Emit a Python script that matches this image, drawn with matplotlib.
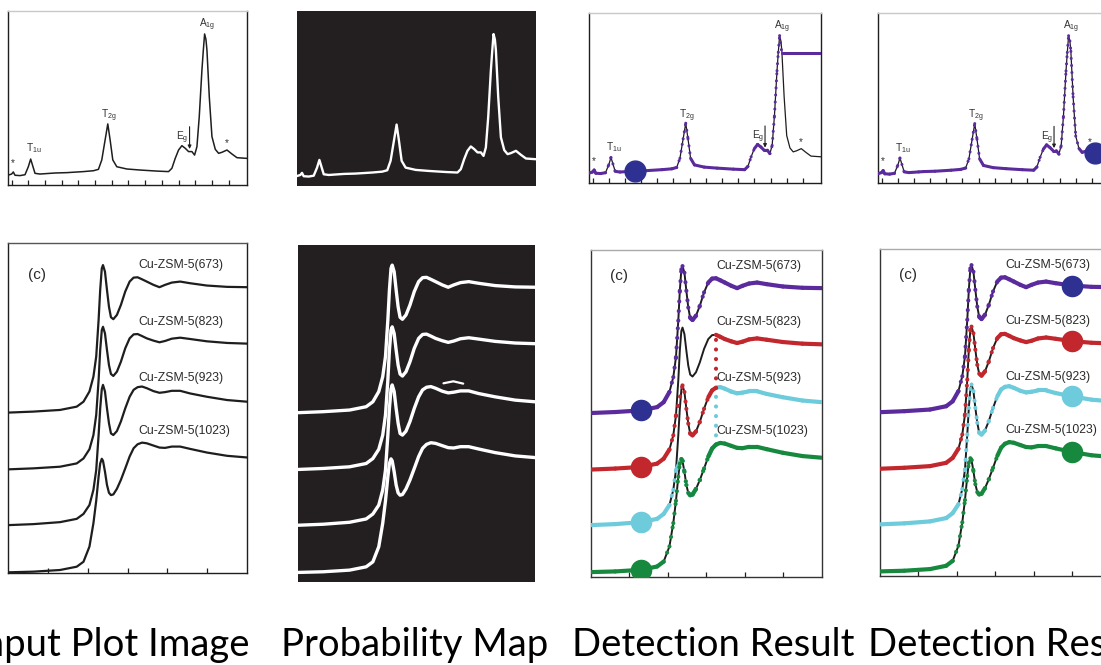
import numpy as np
import matplotlib
matplotlib.use("Agg")
import matplotlib.pyplot as plt
from matplotlib.collections import LineCollection

W, H = 1101, 665

# ---------------- Raman spectrum (top row) ----------------
RAMAN_SHIFT = [140, 150, 155, 160, 175, 190, 200, 207, 213, 220,
               235, 265, 280, 315, 365, 395, 410, 420, 430, 438,
               445, 453, 465, 495, 535, 585, 620, 630, 640, 650,
               660, 670, 680, 690, 698, 705, 712, 720, 724, 728,
               732, 735, 742, 750, 760, 770, 780, 795, 810, 825,
               855]
RAMAN_INTENSITY = [5.7, 6.3, 7.5, 5.6, 5.4, 5.9, 10.5, 14.9, 11.1, 6.7,
                   6.3, 6.7, 6.9, 7.1, 7.7, 8.2, 9.0, 14.4, 25.9, 35.1,
                   25.9, 14.4, 10.5, 9.2, 8.6, 8.0, 7.7, 9.6, 15.3, 20.1,
                   22.6, 21.1, 19.2, 19.2, 17.2, 22.0, 39.3, 66.1, 77.0, 86.8,
                   83.7, 77.6, 50.8, 27.8, 20.5, 18.2, 18.8, 20.1, 17.8, 15.7,
                   15.3]
RAMAN_TICKS = list(range(150, 801, 50))

# band labels: text, shift, intensity
RAMAN_BANDS = [("*", 153, 12.8), (r"T$_{\mathregular{1u}}$", 216, 21.0),
               (r"T$_{\mathregular{2g}}$", 441, 39.5), (r"E$_{\mathregular{g}}$", 661, 27.0),
               (r"A$_{\mathregular{1g}}$", 737, 92.0), ("*", 795, 24.0)]
EG_ARROW = (683, 33.5, 20.7)

# first detector: follows the trace up to the A1g maximum, then runs flat
DETECT_A_STOP = 728
DETECT_A_TAIL_X = [735, 855]
DETECT_A_TAIL_Y = [76.4, 76.4]
DETECT_A_MARK = 280
DETECT_B_MARK = 810

# ---------------- XANES spectra (bottom row) ----------------
XANES_E = [8970.0, 8976.3, 8983.0, 8987.2, 8988.9, 8990.4, 8991.4, 8992.1, 8992.7, 8993.1,
           8993.5, 8993.8, 8994.3, 8994.8, 8995.3, 8995.8, 8996.4, 8997.3, 8998.3, 8999.4,
           9000.5, 9001.5, 9002.5, 9003.6, 9004.8, 9006.5, 9008.0, 9009.4, 9011.1, 9013.2,
           9015.7, 9019.9, 9025.0, 9030.0]
CU673 = [48.7, 49.0, 49.5, 50.5, 52.0, 55.1, 59.6, 65.7, 76.8, 85.9,
         92.4, 93.4, 91.4, 85.9, 80.8, 77.6, 77.0, 78.3, 81.3, 85.4,
         88.4, 89.6, 89.7, 89.1, 88.4, 87.4, 86.7, 87.4, 88.1, 88.4,
         87.9, 87.2, 86.8, 86.7]
CU823 = [31.5, 31.8, 32.3, 33.3, 34.8, 37.6, 41.9, 48.0, 58.6, 67.7,
         73.7, 74.7, 72.7, 67.7, 63.1, 60.4, 59.8, 61.1, 64.1, 68.2,
         71.2, 72.4, 72.5, 71.9, 71.2, 70.5, 70.0, 70.4, 71.1, 71.4,
         71.0, 70.3, 69.8, 69.6]
CU923 = [14.6, 14.9, 15.5, 16.5, 18.0, 20.7, 25.3, 31.3, 41.9, 50.0,
         55.8, 57.1, 55.1, 50.0, 45.5, 42.4, 41.9, 43.1, 46.0, 50.0,
         53.5, 55.6, 56.4, 56.6, 56.1, 55.2, 54.7, 54.9, 55.3, 55.3,
         54.5, 53.5, 52.5, 52.0]
CU1023 = [0.3, 0.5, 1.0, 2.0, 3.5, 8.1, 15.2, 22.0, 29.3, 33.3,
          34.7, 34.1, 30.8, 26.8, 24.4, 23.7, 23.9, 25.6, 28.3, 31.8,
          35.4, 37.9, 39.1, 39.6, 39.4, 38.7, 38.1, 38.0, 38.4, 38.4,
          37.7, 36.6, 35.6, 35.1]
XANES_SERIES = [CU673, CU823, CU923, CU1023]
XANES_LABELS = ["Cu-ZSM-5(673)", "Cu-ZSM-5(823)", "Cu-ZSM-5(923)", "Cu-ZSM-5(1023)"]
XANES_LABEL_Y = [93.5, 76.3, 59.3, 43.2]
XANES_LABEL_E = 9002.7
XANES_TICKS = [8980, 8990, 9000, 9010, 9020]
PANEL_TAG = ("(c)", 8977.3, 90.5)
SPECK_E = [9006.8, 9009.3, 9011.8]
SPECK_Y = [57.6, 58.2, 57.5]

# tracking with crossings: (series, from index, to index) pieces on the shared grid
CROSS_RED = [(1, 0, 8), (2, 11, 23), (1, 22, 34)]
CROSS_CYAN = [(2, 0, 8), (3, 10, 23), (2, 22, 34)]
MARK_LEFT = 2
MARK_RIGHT = 31

CAPTIONS = ["Input Plot Image", "Probability Map", "Detection Result", "Detection Result"]

# ---------------- styling ----------------
PURPLE = "#5b2b9d"
NAVY = "#2e3192"
RED = "#c1272d"
CYAN = "#6dcbdc"
GREEN = "#16893f"
MAPBG = "#231f20"
INK = "#1e1e1e"
SERIES_COLORS = [PURPLE, RED, CYAN, GREEN]
MARK_COLORS = [NAVY, RED, CYAN, GREEN]

plt.rcParams["font.family"] = ["Liberation Sans", "DejaVu Sans"]

fig = plt.figure(figsize=(W / 100, H / 100), dpi=100)
fig.patch.set_facecolor("white")


def px_axes(left, top, right, bottom):
    return fig.add_axes([left / W, 1 - bottom / H, (right - left) / W, (bottom - top) / H])


def frame(ax, top_color="#c8c8c8", side_color=INK, ticks=None):
    for side in ("left", "right", "bottom"):
        ax.spines[side].set_color(side_color)
        ax.spines[side].set_linewidth(1.0)
    ax.spines["top"].set_color(top_color)
    ax.spines["top"].set_linewidth(1.0)
    ax.set_yticks([])
    ax.set_xticks(ticks if ticks is not None else [])
    ax.tick_params(axis="x", direction="in", length=3.5, width=0.9, color=INK,
                   labelbottom=False)


def prob_map(ax):
    ax.set_facecolor(MAPBG)
    for s in ax.spines.values():
        s.set_visible(False)
    ax.set_xticks([])
    ax.set_yticks([])


def detected(ax, x, y, color, lw, steep=2.2, zorder=3):
    """Solid where the trace is shallow, dotted where it climbs steeply."""
    x = np.asarray(x, float)
    y = np.asarray(y, float)
    disp = ax.transData.transform(np.column_stack([x, y]))
    segs = np.stack([np.column_stack([x[:-1], y[:-1]]),
                     np.column_stack([x[1:], y[1:]])], axis=1)
    d = np.diff(disp, axis=0)
    slope = np.abs(d[:, 1]) / np.maximum(np.abs(d[:, 0]), 1e-6)
    flat = slope < steep
    lc = LineCollection(segs[flat], colors=color, linewidths=lw, zorder=zorder)
    lc.set_capstyle("round")
    lc.set_joinstyle("round")
    ax.add_collection(lc)
    lc2 = LineCollection(segs[~flat], colors=color, linewidths=lw,
                         linestyles=[(0, (0.01, 2.3))], zorder=zorder)
    lc2.set_capstyle("round")
    ax.add_collection(lc2)


def raman_labels(ax):
    for txt, xs, yi in RAMAN_BANDS:
        ax.text(xs, yi, txt, fontsize=7.3, color="#333333", ha="center", va="center")
    xa, y0, y1 = EG_ARROW
    ax.annotate("", xy=(xa, y1), xytext=(xa, y0),
                arrowprops=dict(arrowstyle="-|>", lw=0.8, color=INK, mutation_scale=5,
                                shrinkA=0, shrinkB=0))


def xanes_labels(ax):
    for lab, ly in zip(XANES_LABELS, XANES_LABEL_Y):
        ax.text(XANES_LABEL_E, ly, lab, fontsize=8.8, color="#2a2a2a", ha="left", va="center")
    ax.text(PANEL_TAG[1], PANEL_TAG[2], PANEL_TAG[0], fontsize=11, color="#2a2a2a",
            ha="center", va="center")


RAMAN_XLIM = (140, 855)
RAMAN_YLIM = (0, 100)
XANES_XLIM = (8970, 9030)

# ---- panel 1: input Raman plot ----
ax1 = px_axes(8.3, 11, 247, 185)
ax1.set_xlim(*RAMAN_XLIM)
ax1.set_ylim(*RAMAN_YLIM)
ax1.plot(RAMAN_SHIFT, RAMAN_INTENSITY, color=INK, lw=1.1)
frame(ax1, ticks=RAMAN_TICKS)
raman_labels(ax1)

# ---- panel 2: probability map ----
ax2 = px_axes(297, 11, 536, 186)
ax2.set_xlim(*RAMAN_XLIM)
ax2.set_ylim(*RAMAN_YLIM)
prob_map(ax2)
ax2.plot(RAMAN_SHIFT, RAMAN_INTENSITY, color="white", lw=1.7, solid_capstyle="round")

# ---- panel 3: first detection ----
ax3 = px_axes(589.3, 13.3, 820.7, 182.7)
ax3.set_xlim(*RAMAN_XLIM)
ax3.set_ylim(*RAMAN_YLIM)
ax3.plot(RAMAN_SHIFT, RAMAN_INTENSITY, color=INK, lw=0.9, zorder=2)
stop = RAMAN_SHIFT.index(DETECT_A_STOP) + 1
detected(ax3, RAMAN_SHIFT[:stop] + DETECT_A_TAIL_X,
         RAMAN_INTENSITY[:stop] + DETECT_A_TAIL_Y, PURPLE, 2.2)
frame(ax3, ticks=RAMAN_TICKS)
raman_labels(ax3)
ia = RAMAN_SHIFT.index(DETECT_A_MARK)
ax3.plot([RAMAN_SHIFT[ia]], [RAMAN_INTENSITY[ia]], "o", ms=15, color=NAVY, zorder=6)

# ---- panel 4: second detection ----
ax4 = px_axes(878.3, 13.3, 1109.7, 183.3)
ax4.set_xlim(*RAMAN_XLIM)
ax4.set_ylim(*RAMAN_YLIM)
ax4.plot(RAMAN_SHIFT, RAMAN_INTENSITY, color=INK, lw=0.9, zorder=2)
detected(ax4, RAMAN_SHIFT, RAMAN_INTENSITY, PURPLE, 2.2)
frame(ax4, ticks=RAMAN_TICKS)
raman_labels(ax4)
ib = RAMAN_SHIFT.index(DETECT_B_MARK)
ax4.plot([RAMAN_SHIFT[ib]], [RAMAN_INTENSITY[ib]], "o", ms=15, color=NAVY, zorder=6,
         clip_on=False)

# ---- panel 5: input XANES plot ----
ax5 = px_axes(8.3, 243.3, 247, 573.3)
ax5.set_xlim(*XANES_XLIM)
ax5.set_ylim(0, 100)
for ys in XANES_SERIES:
    ax5.plot(XANES_E, ys, color=INK, lw=1.6)
frame(ax5, top_color="#555555", ticks=XANES_TICKS)
xanes_labels(ax5)

# ---- panel 6: probability map ----
ax6 = px_axes(298.3, 245, 535, 582)
ax6.set_xlim(*XANES_XLIM)
ax6.set_ylim(-2.6, 99.5)
prob_map(ax6)
for ys in XANES_SERIES:
    ax6.plot(XANES_E, ys, color="white", lw=2.4, solid_capstyle="round")
ax6.plot(SPECK_E, SPECK_Y, color="white", lw=1.6, solid_capstyle="round")

# ---- panel 7: detection with crossings ----
ax7 = px_axes(591, 250, 821.7, 576.7)
ax7.set_xlim(*XANES_XLIM)
ax7.set_ylim(-1.1, 98.3)
for ys in XANES_SERIES:
    ax7.plot(XANES_E, ys, color=INK, lw=1.4, zorder=2)


def stitched(pieces):
    xs, ys = [], []
    for k, a, b in pieces:
        xs += XANES_E[a:b]
        ys += XANES_SERIES[k][a:b]
    return xs, ys


cx, cy = stitched(CROSS_CYAN)
detected(ax7, cx, cy, CYAN, 3.0, zorder=3)
rx, ry = stitched(CROSS_RED)
detected(ax7, rx, ry, RED, 3.0, zorder=4)
detected(ax7, XANES_E, CU673, PURPLE, 3.0, zorder=4)
detected(ax7, XANES_E, CU1023, GREEN, 3.0, zorder=5)
frame(ax7, top_color="#aaaaaa", side_color="#333333", ticks=XANES_TICKS)
xanes_labels(ax7)
for ys, mc in zip(XANES_SERIES, MARK_COLORS):
    ax7.plot([XANES_E[MARK_LEFT]], [ys[MARK_LEFT]], "o", ms=14.5, color=mc, zorder=7)

# ---- panel 8: correct detection ----
ax8 = px_axes(880, 249, 1110.7, 576)
ax8.set_xlim(*XANES_XLIM)
ax8.set_ylim(-1.1, 98.3)
for ys in XANES_SERIES:
    ax8.plot(XANES_E, ys, color=INK, lw=1.4, zorder=2)
for z, (ys, col) in enumerate(zip(XANES_SERIES, SERIES_COLORS)):
    detected(ax8, XANES_E, ys, col, 3.0, zorder=3 + z)
frame(ax8, top_color="#aaaaaa", side_color="#333333", ticks=XANES_TICKS)
xanes_labels(ax8)
for ys, mc in zip(XANES_SERIES, MARK_COLORS):
    ax8.plot([XANES_E[MARK_RIGHT]], [ys[MARK_RIGHT]], "o", ms=14.5, color=mc, zorder=8)

# ---- captions ----
cap_kw = dict(fontsize=27.5, family=["Lato", "DejaVu Sans"], color="black", va="baseline")
base = 1 - 656 / H
fig.text(250 / W, base, CAPTIONS[0], ha="right", **cap_kw)
fig.text(414.5 / W, base, CAPTIONS[1], ha="center", **cap_kw)
fig.text(713 / W, base, CAPTIONS[2], ha="center", **cap_kw)
fig.text(868 / W, base, CAPTIONS[3], ha="left", **cap_kw)

fig.savefig("out.png", dpi=100, facecolor="white")
